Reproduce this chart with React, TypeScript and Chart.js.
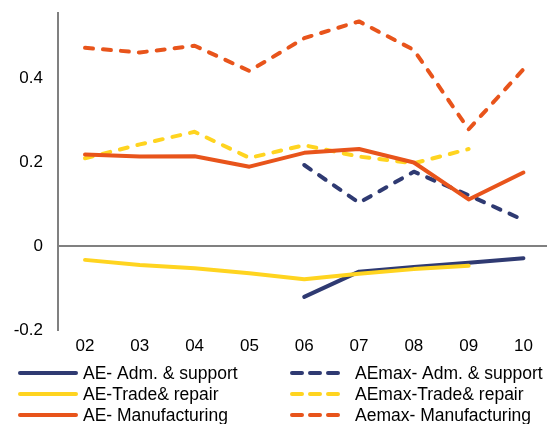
import React, { useEffect, useRef } from 'react';
import { Chart, registerables } from 'chart.js';

Chart.register(...registerables);

const categories = ['02', '03', '04', '05', '06', '07', '08', '09', '10'];
const yTicks = [-0.2, 0, 0.2, 0.4];

const aeAdm = [null, null, null, null, -0.121, -0.061, -0.05, -0.04, -0.029];
const aemaxAdm = [null, null, null, null, 0.193, 0.103, 0.177, 0.121, 0.062];
const aeTrade = [-0.033, -0.045, -0.053, -0.065, -0.079, -0.066, -0.055, -0.047, null];
const aemaxTrade = [0.209, 0.242, 0.272, 0.21, 0.24, 0.213, 0.197, 0.231, null];
const aeManuf = [0.218, 0.213, 0.214, 0.189, 0.222, 0.231, 0.199, 0.111, 0.175];
const aemaxManuf = [0.472, 0.461, 0.477, 0.417, 0.495, 0.535, 0.467, 0.278, 0.421];

const seriesLabels = [
  'AE- Adm. & support',
  'AEmax- Adm. & support',
  'AE-Trade& repair',
  'AEmax-Trade& repair',
  'AE- Manufacturing',
  'Aemax- Manufacturing',
];

const NAVY = '#2F3A72';
const YELLOW = '#FFD420';
const ORANGE = '#E8541B';
const FONT = '"Liberation Sans", Arial, sans-serif';

const toPoints = (arr: (number | null)[]) =>
  arr.map((v, i) => ({ x: i, y: v }));

const legendPlugin = {
  id: 'gridLegend',
  afterDraw(chart: any) {
    const ctx = chart.ctx;
    const rows = [373, 394, 415];
    ctx.save();
    chart.data.datasets.forEach((ds: any, i: number) => {
      const col = i % 2;
      const row = Math.floor(i / 2);
      const y = rows[row];
      const x0 = col === 0 ? 20 : 292;
      const x1 = col === 0 ? 76 : 342;
      const tx = col === 0 ? 83 : 355;
      ctx.beginPath();
      ctx.strokeStyle = ds.borderColor;
      ctx.lineWidth = 4;
      ctx.lineCap = 'round';
      ctx.setLineDash(ds.borderDash && ds.borderDash.length ? [10, 8] : []);
      ctx.moveTo(x0, y);
      ctx.lineTo(x1, y);
      ctx.stroke();
      ctx.setLineDash([]);
      ctx.fillStyle = '#000';
      ctx.font = `17.5px ${FONT}`;
      ctx.textBaseline = 'middle';
      ctx.textAlign = 'left';
      ctx.fillText(ds.label, tx, y + 1);
    });
    ctx.restore();
  },
};

export default function App() {
  const ref = useRef<HTMLCanvasElement>(null);

  useEffect(() => {
    document.body.style.margin = '0';
    if (!ref.current) return;
    const mk = (i: number, data: (number | null)[], color: string, dashed: boolean) => ({
      label: seriesLabels[i],
      data: toPoints(data),
      borderColor: color,
      backgroundColor: color,
      borderWidth: 4,
      borderDash: dashed ? [8, 10] : [],
      borderCapStyle: 'round' as const,
      borderJoinStyle: 'round' as const,
      pointRadius: 0,
      tension: 0,
      spanGaps: false,
      order: 6 - i,
    });
    const chart = new Chart(ref.current, {
      type: 'line',
      data: {
        datasets: [
          mk(0, aeAdm, NAVY, false),
          mk(1, aemaxAdm, NAVY, true),
          mk(2, aeTrade, YELLOW, false),
          mk(3, aemaxTrade, YELLOW, true),
          mk(4, aeManuf, ORANGE, false),
          mk(5, aemaxManuf, ORANGE, true),
        ],
      },
      options: {
        animation: false,
        responsive: false,
        layout: { padding: { top: 13, right: 0, bottom: 0, left: 0 } },
        plugins: { legend: { display: false }, tooltip: { enabled: false } },
        scales: {
          x: {
            type: 'linear',
            min: -0.493,
            max: 8.43,
            afterFit: (s: any) => {
              s.height = 94;
              s.paddingLeft = 0;
              s.paddingRight = 0;
              s.paddingTop = 0;
              s.paddingBottom = 0;
            },
            afterBuildTicks: (s: any) => {
              s.ticks = categories.map((_, i) => ({ value: i }));
            },
            ticks: {
              autoSkip: false,
              maxRotation: 0,
              padding: 6,
              color: '#000',
              font: { family: FONT, size: 17 },
              callback: (v: any) => categories[v] ?? '',
            },
            grid: { display: false, drawTicks: false },
            border: { display: false },
          },
          y: {
            type: 'linear',
            min: -0.2,
            max: 0.555,
            afterFit: (s: any) => {
              s.width = 58;
              s.paddingTop = 0;
              s.paddingBottom = 0;
              s.paddingLeft = 0;
              s.paddingRight = 0;
            },
            afterBuildTicks: (s: any) => {
              s.ticks = yTicks.map((v) => ({ value: v }));
            },
            ticks: {
              padding: 15,
              color: '#000',
              font: { family: FONT, size: 17 },
              callback: (v: any) => (v === 0 ? '0' : Number(v).toFixed(1)),
            },
            grid: {
              drawTicks: false,
              lineWidth: 2,
              color: (c: any) => (c.tick && c.tick.value === 0 ? '#808080' : 'rgba(0,0,0,0)'),
            },
            border: { display: true, color: '#808080', width: 2 },
          },
        },
      },
      plugins: [legendPlugin],
    });
    return () => chart.destroy();
  }, []);

  return <canvas ref={ref} width={547} height={424} style={{ display: 'block' }} />;
}
